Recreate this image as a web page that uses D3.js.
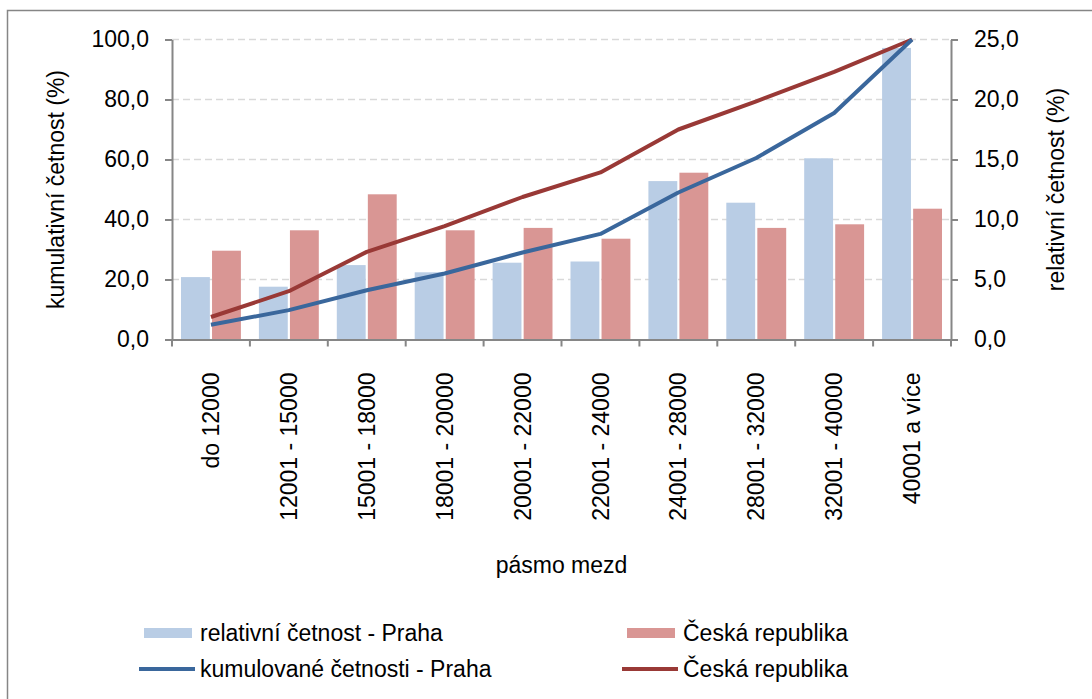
<!DOCTYPE html>
<html>
<head>
<meta charset="utf-8">
<script src="https://cdn.jsdelivr.net/npm/d3@7"></script>
<style>
  body { margin: 0; background: #fff; }
  svg text { font-family: "Liberation Sans", Arial, sans-serif; fill: #000; }
</style>
</head>
<body>
<div id="chart"></div>
<script>
// data
var categories = ["do 12000", "12001 - 15000", "15001 - 18000", "18001 - 20000", "20001 - 22000",
    "22001 - 24000", "24001 - 28000", "28001 - 32000", "32001 - 40000", "40001 a více"];
var relPraha = [5.2, 4.4, 6.2, 5.6, 6.4, 6.5, 13.2, 11.4, 15.1, 24.3];
var relCR = [7.4, 9.1, 12.1, 9.1, 9.3, 8.4, 13.9, 9.3, 9.6, 10.9];
var cumPraha = [4.9, 9.8, 16.4, 22.0, 29.0, 35.2, 49.0, 60.5, 75.5, 100];
var cumCR = [7.5, 16.1, 29.2, 37.8, 47.5, 55.7, 70.0, 79.4, 89.2, 100];
var leftTicks = [0, 20, 40, 60, 80, 100];
var rightTicks = [0, 5, 10, 15, 20, 25];

var W = 1092, H = 699;
var margin = {t: 39.5, r: 141, b: 359.5, l: 172};
var width = W - margin.l - margin.r,
    height = H - margin.t - margin.b;

var svg = d3.select('#chart').append('svg')
    .attr('width', W)
    .attr('height', H);

// outer frame (cut off at right/bottom like the picture)
svg.append('rect')
    .attr('x', 7.5).attr('y', 10.5)
    .attr('width', W).attr('height', H)
    .attr('fill', 'none').attr('stroke', '#868686').attr('stroke-width', 1.5);

var g = svg.append('g').attr('transform', 'translate(' + margin.l + ',' + margin.t + ')');

var fmt = function(d){ return d.toFixed(1).replace('.', ','); };

// scales
var x0 = d3.scaleBand().domain(categories).range([0, width]).padding(0);
var x1 = d3.scaleBand().domain(['praha', 'cr']).range([9, x0.bandwidth() - 9]).paddingInner(0.07);
var yL = d3.scaleLinear().domain([0, 100]).range([height, 0]);
var yR = d3.scaleLinear().domain([0, 25]).range([height, 0]);

// gridlines
g.append('g').selectAll('line')
    .data(leftTicks.slice(1))
    .enter().append('line')
    .attr('x1', 0).attr('x2', width)
    .attr('y1', function(d){ return yL(d); })
    .attr('y2', function(d){ return yL(d); })
    .attr('stroke', '#d9d9d9').attr('stroke-width', 1.5)
    .attr('stroke-dasharray', '7,4');

// bars
var barData = [];
categories.forEach(function(c, i){
    barData.push({cat: c, key: 'praha', v: relPraha[i]});
    barData.push({cat: c, key: 'cr', v: relCR[i]});
});
g.append('g').selectAll('rect')
    .data(barData)
    .enter().append('rect')
    .attr('x', function(d){ return x0(d.cat) + x1(d.key); })
    .attr('y', function(d){ return yR(d.v); })
    .attr('width', x1.bandwidth())
    .attr('height', function(d){ return height - yR(d.v); })
    .attr('fill', function(d){ return d.key === 'praha' ? '#b9cde5' : '#d99694'; });

// lines
var line = d3.line()
    .x(function(d, i){ return x0(categories[i]) + x0.bandwidth() / 2; })
    .y(function(d){ return yL(d); });
g.append('path').datum(cumCR)
    .attr('d', line).attr('fill', 'none')
    .attr('stroke', '#993936').attr('stroke-width', 4).attr('stroke-linejoin', 'round');
g.append('path').datum(cumPraha)
    .attr('d', line).attr('fill', 'none')
    .attr('stroke', '#3a679c').attr('stroke-width', 4).attr('stroke-linejoin', 'round');

// axes
var axisL = d3.axisLeft(yL).tickValues(leftTicks).tickFormat(fmt).tickSizeInner(7).tickSizeOuter(0).tickPadding(16);
var axisR = d3.axisRight(yR).tickValues(rightTicks).tickFormat(fmt).tickSizeInner(7).tickSizeOuter(0).tickPadding(16);
var axisX = d3.axisBottom(x0).tickSizeInner(0).tickSizeOuter(0);

var gl = g.append('g').attr('class', 'axis').call(axisL);
var gr = g.append('g').attr('class', 'axis').attr('transform', 'translate(' + width + ',0)').call(axisR);
var gx = g.append('g').attr('class', 'axis').attr('transform', 'translate(0,' + height + ')').call(axisX);

// x ticks at category boundaries
gx.selectAll('.bound')
    .data(d3.range(categories.length + 1))
    .enter().append('line')
    .attr('class', 'bound')
    .attr('x1', function(i){ return i * x0.step(); })
    .attr('x2', function(i){ return i * x0.step(); })
    .attr('y1', 0).attr('y2', 7)
    .attr('stroke', '#868686').attr('stroke-width', 2);

gx.selectAll('.tick text')
    .attr('y', 0).attr('x', -33).attr('dy', '0.35em')
    .attr('transform', 'rotate(-90)')
    .style('text-anchor', 'end');

g.selectAll('.axis path, .axis line').attr('stroke', '#868686').attr('stroke-width', 2);
g.selectAll('.axis text').style('font-size', '23px').style('fill', '#000');
g.selectAll('.axis').attr('font-family', null);

// axis titles
svg.append('text')
    .attr('transform', 'translate(64,' + (margin.t + height / 2) + ') rotate(-90)')
    .attr('text-anchor', 'middle')
    .style('font-size', '23px')
    .text('kumulativní četnost (%)');
svg.append('text')
    .attr('transform', 'translate(1064,' + (margin.t + height / 2) + ') rotate(-90)')
    .attr('text-anchor', 'middle')
    .style('font-size', '23px')
    .text('relativní četnost (%)');
svg.append('text')
    .attr('x', margin.l + width / 2).attr('y', 573)
    .attr('text-anchor', 'middle')
    .style('font-size', '23px')
    .text('pásmo mezd');

// legend
var legend = [
    {label: 'relativní četnost - Praha', type: 'bar', color: '#b9cde5', x: 139, y: 633},
    {label: 'Česká republika', type: 'bar', color: '#d99694', x: 622, y: 633},
    {label: 'kumulované četnosti - Praha', type: 'line', color: '#3a679c', x: 139, y: 669},
    {label: 'Česká republika', type: 'line', color: '#993936', x: 622, y: 669}
];
var lg = svg.append('g').selectAll('g').data(legend).enter().append('g')
    .attr('transform', function(d){ return 'translate(' + d.x + ',' + d.y + ')'; });
lg.filter(function(d){ return d.type === 'bar'; }).append('rect')
    .attr('x', 5).attr('y', -5).attr('width', 48).attr('height', 10)
    .attr('fill', function(d){ return d.color; });
lg.filter(function(d){ return d.type === 'line'; }).append('line')
    .attr('x1', 0).attr('x2', 56).attr('y1', 0).attr('y2', 0)
    .attr('stroke', function(d){ return d.color; }).attr('stroke-width', 4);
lg.append('text')
    .attr('x', 61).attr('y', 8)
    .style('font-size', '23px')
    .text(function(d){ return d.label; });
</script>
</body>
</html>
